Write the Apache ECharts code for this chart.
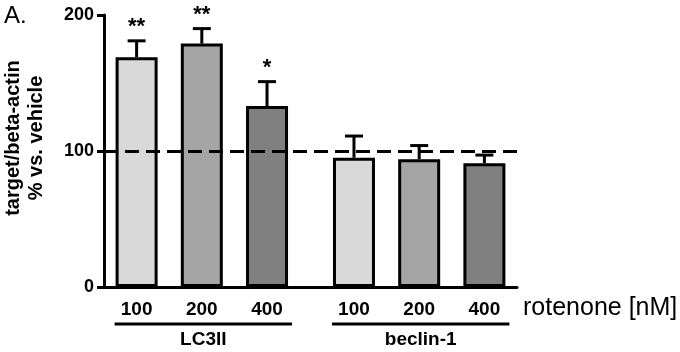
<!DOCTYPE html>
<html>
<head>
<meta charset="utf-8">
<script src="https://cdn.jsdelivr.net/npm/echarts@6/dist/echarts.min.js"></script>
<style>
  html, body { margin: 0; padding: 0; background: #fff; }
  #chartArea { width: 680px; height: 352px; }
</style>
</head>
<body>
<div id="chartArea"></div>
<script>
// values
var doses = ['100', '200', '400'];
var groups = ['LC3II', 'beclin-1'];
var lc3Mean = [169, 179, 133];
var lc3Err = [12, 11, 18];
var beclinMean = [95, 94, 91];
var beclinErr = [16, 10, 6];
var stars = ['**', '**', '*', '', '', ''];
var barColors = ['#d9d9d9', '#a5a5a5', '#808080'];
var yTicks = [0, 100, 200];

// 19 equal slots: bars sit on every 3rd slot, with a wider gap between the groups
var slotCount = 19;
function slotOf(g, d) { return 1 + 3 * d + 10 * g; }

var categories = [];
for (var i = 0; i < slotCount; i++) categories.push('');
var barData = categories.map(function () { return '-'; });
var errData = [];
var means = [lc3Mean, beclinMean];
var errs = [lc3Err, beclinErr];
groups.forEach(function (g, gi) {
    doses.forEach(function (d, di) {
        var s = slotOf(gi, di);
        categories[s] = d;
        barData[s] = { value: means[gi][di], itemStyle: { color: barColors[di] } };
        errData.push([s, means[gi][di], errs[gi][di]]);
    });
});

var labelFont = '"Liberation Sans", Arial, sans-serif';
var isLabel = function (i, v) { return v !== ''; };

var option = {
    animation: false,
    grid: { left: 104, right: 163, top: 15, bottom: 65 },
    xAxis: {
        type: 'category',
        data: categories,
        axisLine: { lineStyle: { color: '#000', width: 3 } },
        axisTick: { interval: isLabel, alignWithLabel: true, length: 7, lineStyle: { color: '#000', width: 3 } },
        axisLabel: { interval: isLabel, color: '#000', fontFamily: labelFont, fontWeight: 'bold', fontSize: 19, margin: 13 },
        splitLine: { show: false }
    },
    yAxis: {
        type: 'value',
        min: yTicks[0],
        max: yTicks[yTicks.length - 1],
        interval: 100,
        axisLine: { show: true, lineStyle: { color: '#000', width: 3 } },
        axisTick: { show: true, length: 7, lineStyle: { color: '#000', width: 3 } },
        axisLabel: { color: '#000', fontFamily: labelFont, fontWeight: 'bold', fontSize: 18, margin: 10 },
        splitLine: { show: false }
    },
    series: [
        {
            type: 'custom',
            z: 1,
            data: errData,
            renderItem: function (params, api) {
                var x = api.value(0), m = api.value(1), e = api.value(2);
                var p0 = api.coord([x, m]);
                var p1 = api.coord([x, m + e]);
                var st = { stroke: '#000', lineWidth: 3 };
                return {
                    type: 'group',
                    children: [
                        { type: 'line', shape: { x1: p0[0], y1: p0[1], x2: p1[0], y2: p1[1] }, style: st },
                        { type: 'line', shape: { x1: p1[0] - 9, y1: p1[1], x2: p1[0] + 9, y2: p1[1] }, style: st },
                        { type: 'text', style: { x: p1[0], y: p1[1] - 3, text: stars[params.dataIndex], fill: '#000',
                            font: 'bold 22px ' + labelFont, align: 'center', verticalAlign: 'bottom' } }
                    ]
                };
            }
        },
        {
            type: 'bar',
            z: 2,
            data: barData,
            barWidth: 42,
            barMaxWidth: 42,
            itemStyle: { borderColor: '#000', borderWidth: 3 },
            markLine: {
                silent: true,
                symbol: 'none',
                label: { show: false },
                lineStyle: { color: '#000', width: 3, type: [14, 7] },
                data: [{ yAxis: 100 }]
            }
        }
    ]
};

var chart = echarts.init(document.getElementById('chartArea'));
chart.setOption(option);

// panel letter, axis title, group underlines and labels
var graphics = [
    { type: 'text', left: 4, top: 4, style: { text: 'A.', fill: '#000', font: '24px ' + labelFont } },
    { type: 'text', x: 25, y: 138, rotation: Math.PI / 2,
      style: { text: 'target/beta-actin\n% vs. vehicle', fill: '#000', font: 'bold 20px ' + labelFont,
               lineHeight: 23, align: 'center', verticalAlign: 'middle' } },
    { type: 'text', x: 523, y: 308, style: { text: 'rotenone [nM]', fill: '#000', font: '25px ' + labelFont, verticalAlign: 'middle' } }
];
groups.forEach(function (g, gi) {
    var xa = chart.convertToPixel({ xAxisIndex: 0 }, slotOf(gi, 0)) - 22;
    var xb = chart.convertToPixel({ xAxisIndex: 0 }, slotOf(gi, doses.length - 1)) + 25;
    graphics.push({ type: 'line', shape: { x1: xa, y1: 324, x2: xb, y2: 324 }, style: { stroke: '#000', lineWidth: 3 } });
    graphics.push({ type: 'text', x: (xa + xb) / 2, y: 340, style: { text: g, fill: '#000', font: 'bold 19px ' + labelFont, align: 'center', verticalAlign: 'middle' } });
});
chart.setOption({ graphic: graphics });
</script>
</body>
</html>
